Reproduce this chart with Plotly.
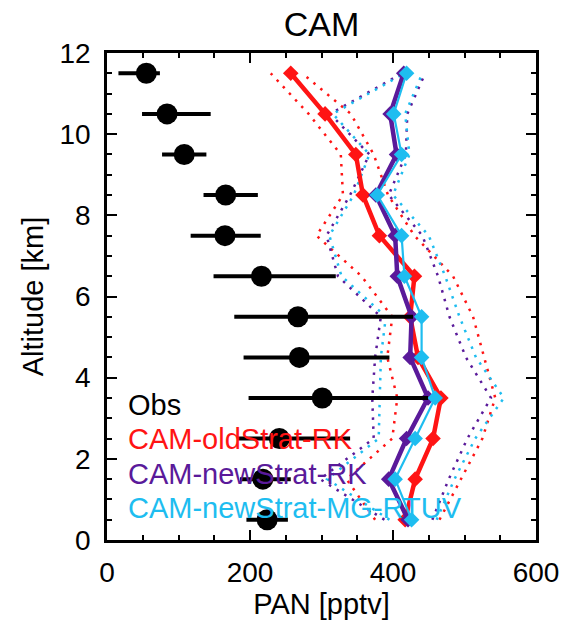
import plotly.graph_objects as go

# Altitude levels (km)
altitude = [0.5, 1.5, 2.5, 3.5, 4.5, 5.5, 6.5, 7.5, 8.5, 9.5, 10.5, 11.5]

# Observations (PAN, pptv) with asymmetric ranges
obs_mean = [224, 218, 241, 301, 269, 267, 216, 165, 166, 108, 84, 55]
obs_low = [195, 186, 182, 198, 191, 178, 149, 117, 135, 77, 49, 16]
obs_high = [253, 257, 340, 449, 395, 428, 320, 215, 211, 139, 145, 74]

# CAM-oldStrat-RK
old_rk_mean = [417, 431, 456, 467, 435, 424, 430, 381, 358, 348, 305, 257]
old_rk_low = [375, 335, 399, 406, 392, 399, 356, 293, 330, 327, 282, 229]
old_rk_high = [465, 495, 525, 543, 528, 512, 484, 430, 393, 373, 341, 273]

# CAM-newStrat-RK
new_rk_mean = [421, 394, 419, 449, 424, 426, 406, 403, 376, 405, 396, 415]
new_rk_low = [388, 298, 373, 371, 375, 383, 323, 307, 340, 367, 312, 413]
new_rk_high = [455, 478, 504, 537, 502, 479, 463, 441, 394, 418, 420, 445]

# CAM-newStrat-MG-RTUV
new_mg_mean = [426, 403, 431, 459, 440, 440, 416, 412, 378, 412, 401, 419]
new_mg_low = [395, 308, 380, 381, 383, 390, 328, 311, 345, 367, 316, 416]
new_mg_high = [461, 486, 515, 555, 516, 493, 473, 450, 400, 423, 417, 441]

legend_labels = ["Obs", "CAM-oldStrat-RK", "CAM-newStrat-RK", "CAM-newStrat-MG-RTUV"]

RED = "#ff1414"
PURPLE = "#5a1a9a"
CYAN = "#1ebdf0"
FONT = "Liberation Sans, Arial, Helvetica, sans-serif"
DOT = "2.5px,6.5px"

fig = go.Figure()

models = [
    (old_rk_mean, old_rk_low, old_rk_high, RED, 4.5),
    (new_rk_mean, new_rk_low, new_rk_high, PURPLE, 4.5),
    (new_mg_mean, new_mg_low, new_mg_high, CYAN, 2.2),
]

# dotted envelopes
for mean, low, high, col, lw in models:
    for arr in (low, high):
        fig.add_trace(go.Scatter(x=arr, y=altitude, mode="lines",
                                 line=dict(color=col, width=2.5, dash=DOT),
                                 hoverinfo="skip", showlegend=False))

# model means
for mean, low, high, col, lw in models:
    fig.add_trace(go.Scatter(x=mean, y=altitude, mode="lines+markers",
                             line=dict(color=col, width=lw),
                             marker=dict(symbol="diamond", size=12, color=col),
                             showlegend=False))

# observations
fig.add_trace(go.Scatter(
    x=obs_mean, y=altitude, mode="markers",
    marker=dict(symbol="circle", size=21, color="black"),
    error_x=dict(type="data", symmetric=False,
                 array=[h - m for h, m in zip(obs_high, obs_mean)],
                 arrayminus=[m - l for m, l in zip(obs_mean, obs_low)],
                 color="black", thickness=4, width=0),
    showlegend=False))

# text-only legend
leg_colors = ["black", RED, PURPLE, CYAN]
leg_y = [0.278, 0.207, 0.136, 0.065]
for lab, c, yy in zip(legend_labels, leg_colors, leg_y):
    fig.add_annotation(text=lab, xref="paper", yref="paper", x=0.045, y=yy,
                       xanchor="left", yanchor="middle", showarrow=False,
                       font=dict(family=FONT, size=29, color=c))

axis_common = dict(showline=True, linecolor="black", linewidth=2.5, mirror="ticks",
                   ticks="inside", tickcolor="black", tickwidth=2, ticklen=10,
                   showgrid=False, zeroline=False,
                   tickfont=dict(family=FONT, size=28, color="black"))

fig.update_layout(
    width=571, height=625,
    margin=dict(l=107, r=28, t=53, b=80),
    paper_bgcolor="white", plot_bgcolor="white",
    title=dict(text="CAM", x=0.5, xref="paper", xanchor="center",
               y=1 - 24 / 625, yref="container", yanchor="middle",
               font=dict(family=FONT, size=34, color="black")),
    xaxis=dict(range=[0, 600], tickvals=[0, 200, 400, 600],
               minor=dict(dtick=50, ticks="inside", ticklen=5, tickwidth=2, tickcolor="black"),
               title=dict(text="PAN [pptv]", font=dict(family=FONT, size=29, color="black"),
                          standoff=4),
               ticklabelstandoff=6,
               **axis_common),
    yaxis=dict(range=[0, 12], tickvals=[0, 2, 4, 6, 8, 10, 12],
               minor=dict(dtick=0.5, ticks="inside", ticklen=5, tickwidth=2, tickcolor="black"),
               title=dict(text="Altitude [km]", font=dict(family=FONT, size=29, color="black"),
                          standoff=8),
               ticklabelstandoff=8,
               **axis_common),
)

fig.write_html("out.html")
